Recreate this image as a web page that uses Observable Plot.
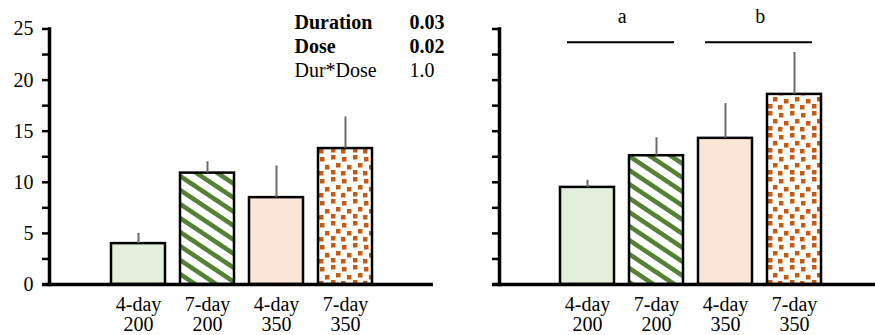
<!DOCTYPE html>
<html>
<head>
<meta charset="utf-8">
<script src="https://cdn.jsdelivr.net/npm/d3@7"></script>
<script src="https://cdn.jsdelivr.net/npm/@observablehq/plot@0.6"></script>
<style>
  html, body { margin: 0; padding: 0; background: #fff; }
  #wrap { display: flex; width: 875px; height: 335px; overflow: hidden; background: #fff; }
  #wrap svg { flex: none; max-width: none; }
</style>
</head>
<body>
<svg width="0" height="0" style="position:absolute">
  <defs>
    <pattern id="stripes" patternUnits="userSpaceOnUse" width="21" height="14">
      <rect width="21" height="14" fill="white"/>
      <path d="M-5,-17.33L26,3.33M-5,-3.33L26,17.33M-5,10.67L26,31.33" stroke="#548235" stroke-width="4.6" fill="none"/>
    </pattern>
    <pattern id="confetti" patternUnits="userSpaceOnUse" width="22" height="22">
      <rect width="22" height="22" fill="white"/>
      <g fill="#C55A11">
        <rect x="1" y="1" width="4.5" height="4.5"/>
        <rect x="12" y="3" width="4.5" height="4.5"/>
        <rect x="6" y="9" width="4.5" height="4.5"/>
        <rect x="17" y="11" width="4.5" height="4.5"/>
        <rect x="1" y="16" width="4.5" height="4.5"/>
        <rect x="11" y="17" width="4.5" height="4.5"/>
      </g>
    </pattern>
  </defs>
</svg>
<div id="wrap"></div>
<script>
// ---- data ----
const categories = ["4-day\n200", "7-day\n200", "4-day\n350", "7-day\n350"];
const leftMeans = [4.0, 10.9, 8.5, 13.3];
const leftErrors = [1.0, 1.1, 3.1, 3.1];
const rightMeans = [9.5, 12.6, 14.3, 18.6];
const rightErrors = [0.7, 1.75, 3.4, 4.1];
const yTicks = [0, 2.5, 5, 7.5, 10, 12.5, 15, 17.5, 20, 22.5, 25];
const statNames = ["Duration", "Dose", "Dur*Dose"];
const statP = ["0.03", "0.02", "1.0"];
const groupLetters = ["a", "b"];
const groupFirst = [0, 2];
const groupLast = [1, 3];

// ---- styles ----
const barFills = ["#E2EFDA", "url(#stripes)", "#FBE5D6", "url(#confetti)"];
const font = '"Liberation Serif","Times New Roman",serif';

function panel({means, errs, width, marginLeft, marginRight, paddingOuter, align, showLabels, extras}) {
  const rows = categories.map((c, i) => ({category: c, mean: means[i], err: errs[i], fill: barFills[i]}));
  return Plot.plot({
    width, height: 335,
    marginLeft, marginRight, marginTop: 28.5, marginBottom: 51,
    style: {fontFamily: font, fontSize: "20px", color: "black", background: "transparent", overflow: "visible"},
    x: {domain: categories, paddingInner: 0.22, paddingOuter, align, label: null},
    y: {domain: [0, 25], label: null},
    color: {type: "identity"},
    marks: [
      Plot.barY(rows, {x: "category", y: "mean", fill: "fill", stroke: "black", strokeWidth: 2.5}),
      Plot.ruleX(rows, {x: "category", y1: "mean", y2: d => d.mean + d.err, stroke: "#6a6a6a", strokeWidth: 2}),
      Plot.ruleY([0], {stroke: "black", strokeWidth: 3.5, insetLeft: -7}),
      Plot.frame({anchor: "left", stroke: "black", strokeWidth: 3.5}),
      Plot.axisY({ticks: yTicks, tickSize: 7, tickPadding: 9, strokeWidth: 2.5, label: null,
        tickFormat: showLabels ? (d => d % 5 === 0 ? String(d) : "") : () => ""}),
      Plot.axisX({tickSize: 0, tickPadding: 12, label: null, fontSize: 20}),
      ...extras
    ]
  });
}

const statIdx = statNames.map((_, i) => i);
const isSig = i => parseFloat(statP[i]) < 0.05;
const statMarks = [true, false].flatMap(bold => {
  const idx = statIdx.filter(i => isSig(i) === bold);
  const common = {y: i => 25 - i * 2.35, frameAnchor: "left", textAnchor: "start", lineAnchor: "bottom",
    fontSize: 20, fontWeight: bold ? "bold" : "normal"};
  return [
    Plot.text(idx, {...common, text: i => statNames[i], dx: 245}),
    Plot.text(idx, {...common, text: i => statP[i], dx: 360})
  ];
});

const groups = groupLetters.map((g, i) => ({letter: g, from: categories[groupFirst[i]], to: categories[groupLast[i]]}));
const groupMarks = [
  Plot.ruleY(groups, {x1: "from", x2: "to", y: () => 23.7, stroke: "black", strokeWidth: 2, insetLeft: 7, insetRight: 9}),
  Plot.text(groups, {x: "from", y: () => 25.6, text: "letter", dx: 34.8, lineAnchor: "bottom", fontSize: 20})
];

const wrap = document.getElementById("wrap");
wrap.appendChild(panel({means: leftMeans, errs: leftErrors, width: 437, marginLeft: 49, marginRight: 4,
  paddingOuter: 0.88, align: 0.5, showLabels: true, extras: statMarks}));
wrap.appendChild(panel({means: rightMeans, errs: rightErrors, width: 438, marginLeft: 62, marginRight: 0,
  paddingOuter: 0.811, align: 0.531, showLabels: false, extras: groupMarks}));
</script>
</body>
</html>
